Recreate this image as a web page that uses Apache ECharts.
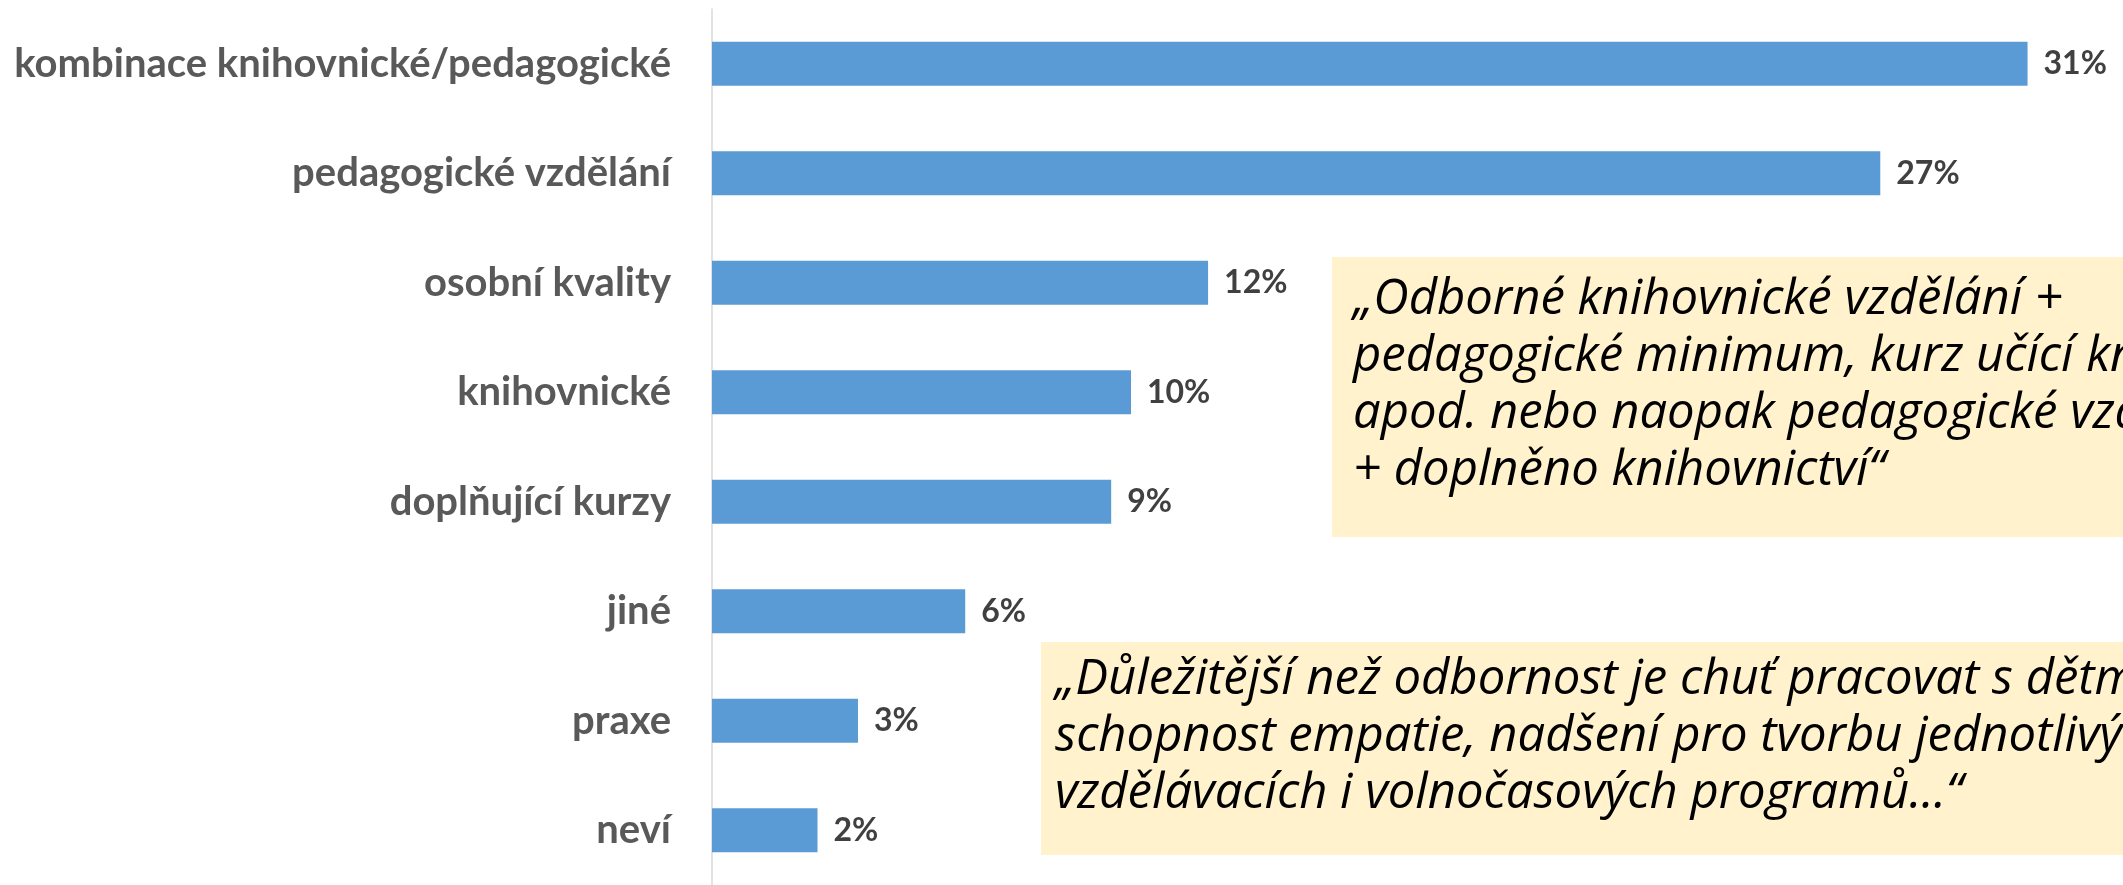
<!DOCTYPE html>
<html>
<head>
<meta charset="utf-8">
<script src="https://cdn.jsdelivr.net/npm/echarts@6/dist/echarts.min.js"></script>
<style>
  html, body { margin: 0; padding: 0; background: #fff; }
  #chart { width: 2123px; height: 885px; }
</style>
</head>
<body>
<div id="chart"></div>
<script>
// kategorie (shora dolu)
const categories = [
  'kombinace knihovnické/pedagogické',
  'pedagogické vzdělání',
  'osobní kvality',
  'knihovnické',
  'doplňující kurzy',
  'jiné',
  'praxe',
  'neví'
];
// podíl odpovědí v %
const values = [30.55, 27.13, 11.52, 9.73, 9.27, 5.88, 3.39, 2.45];

// citace v rámečcích
const quote1 = [
  '„Odborné knihovnické vzdělání +',
  'pedagogické minimum, kurz učící knihovníky pracovat s dětmi',
  'apod. nebo naopak pedagogické vzdělání',
  '+ doplněno knihovnictví“'
];
const quote2 = [
  '„Důležitější než odbornost je chuť pracovat s dětmi,',
  'schopnost empatie, nadšení pro tvorbu jednotlivých',
  'vzdělávacích i volnočasových programů...“'
];

const myChart = echarts.init(document.getElementById('chart'));

const quoteStyle = {
  fill: '#000',
  fontFamily: 'Open Sans',
  fontStyle: 'italic',
  fontSize: 49,
  lineHeight: 57,
  verticalAlign: 'top',
  align: 'left'
};

const option = {
  animation: false,
  grid: { left: 712, right: 33, top: 9, bottom: -6, containLabel: false },
  xAxis: {
    type: 'value',
    min: 0,
    max: 32,
    show: false
  },
  yAxis: {
    type: 'category',
    data: categories,
    inverse: true,
    axisLine: { show: true, lineStyle: { color: '#D9D9D9', width: 1.5 } },
    axisTick: { show: false },
    splitLine: { show: false },
    axisLabel: {
      margin: 41,
      color: '#595959',
      fontFamily: 'Lato',
      fontWeight: 'bold',
      fontSize: 40
    }
  },
  series: [
    {
      type: 'bar',
      data: values,
      barWidth: 44,
      itemStyle: { color: '#5B9BD5' },
      label: {
        show: true,
        position: 'right',
        distance: 16,
        color: '#404040',
        fontFamily: 'Lato',
        fontWeight: 'bold',
        fontSize: 32,
        formatter: p => Math.round(p.value) + '%'
      }
    }
  ],
  graphic: [
    {
      type: 'rect',
      shape: { x: 1332, y: 257, width: 820, height: 280 },
      style: { fill: '#FFF2CC' },
      z: 10
    },
    {
      type: 'text',
      x: 1353,
      y: 272,
      style: Object.assign({ text: quote1.join('\n') }, quoteStyle),
      z: 11
    },
    {
      type: 'rect',
      shape: { x: 1041, y: 642, width: 1110, height: 213 },
      style: { fill: '#FFF2CC' },
      z: 10
    },
    {
      type: 'text',
      x: 1055,
      y: 652,
      style: Object.assign({ text: quote2.join('\n') }, quoteStyle),
      z: 11
    }
  ]
};

myChart.setOption(option);
</script>
</body>
</html>
